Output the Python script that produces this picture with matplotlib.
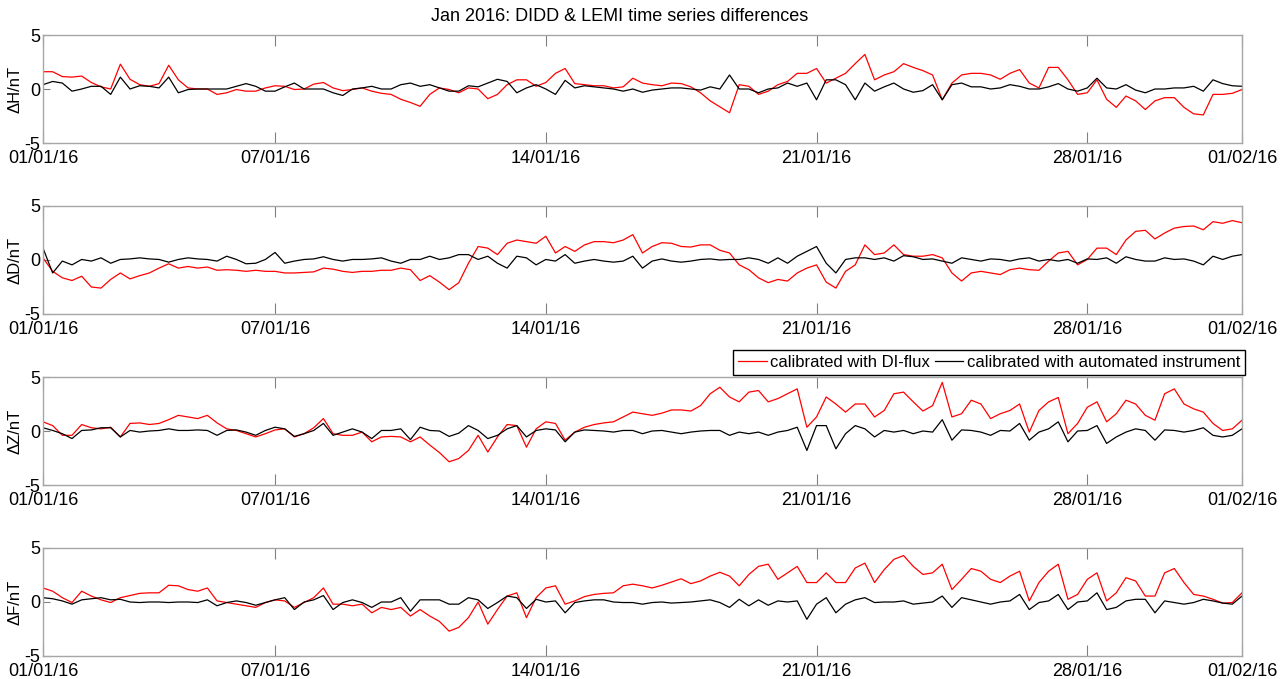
import numpy as np
import matplotlib
matplotlib.use("Agg")
import matplotlib.pyplot as plt

plt.rcParams['font.family'] = ['Liberation Sans', 'DejaVu Sans']

# ---- data: time in days since 01/01/16 00:00, 6-hour steps ----
days = np.arange(0, 31.01, 0.25)

tick_days = [0, 6, 13, 20, 27, 31]
tick_labels = ["01/01/16", "07/01/16", "14/01/16", "21/01/16", "28/01/16", "01/02/16"]

title = "Jan 2016: DIDD & LEMI time series differences"
ylabels = ["\u0394H/nT", "\u0394D/nT", "\u0394Z/nT", "\u0394F/nT"]
legend_labels = ["calibrated with DI-flux", "calibrated with automated instrument"]

dH_diflux = [1.6, 1.6, 1.15, 1.1, 1.2, 0.6, 0.2, 0.0, 2.3, 0.9, 0.4, 0.25, 0.5, 2.2, 0.85, 0.1,
             0.0, 0.0, -0.5, -0.35, -0.05, -0.2, -0.2, 0.1, 0.3, 0.25, -0.05, 0.0, 0.45, 0.6, 0.1, -0.15,
             -0.05, 0.1, -0.2, -0.4, -0.5, -0.95, -1.25, -1.6, -0.5, 0.1, -0.05, -0.35, 0.1, 0.0, -0.9, -0.5,
             0.4, 0.85, 0.85, 0.25, 0.6, 1.45, 1.9, 0.5, 0.4, 0.3, 0.3, 0.1, 0.2, 1.0, 0.55, 0.4,
             0.3, 0.55, 0.5, 0.2, -0.35, -1.1, -1.65, -2.2, 0.4, 0.25, -0.5, -0.2, 0.4, 0.7, 1.45, 1.45,
             1.9, 0.55, 1.0, 1.45, 2.35, 3.2, 0.85, 1.3, 1.6, 2.35, 2.0, 1.7, 1.3, -1.0, 0.55, 1.3,
             1.45, 1.45, 1.3, 0.9, 1.45, 1.8, 0.55, 0.1, 2.0, 2.0, 0.85, -0.5, -0.35, 0.85, -0.95, -1.7,
             -0.65, -1.1, -1.9, -1.1, -0.8, -0.8, -1.7, -2.3, -2.4, -0.5, -0.5, -0.4, -0.05]
dH_auto = [0.4, 0.7, 0.55, -0.2, 0.0, 0.25, 0.25, -0.5, 1.1, 0.0, 0.3, 0.25, 0.1, 1.1, -0.35, -0.05,
           0.0, 0.0, 0.0, 0.0, 0.25, 0.5, 0.25, -0.2, -0.2, 0.2, 0.55, 0.0, 0.0, 0.0, -0.35, -0.6,
           0.0, 0.1, 0.25, 0.0, 0.0, 0.4, 0.55, 0.25, 0.4, 0.1, -0.2, -0.2, 0.3, 0.2, 0.55, 0.9,
           0.7, -0.35, 0.1, 0.4, 0.0, -0.5, 0.8, 0.1, 0.3, 0.2, 0.1, 0.0, -0.2, 0.0, -0.3, -0.1,
           0.0, 0.1, 0.1, 0.0, -0.1, 0.2, 0.0, 1.3, 0.0, 0.0, -0.35, 0.0, 0.1, 0.55, 0.25, 0.55,
           -1.0, 0.85, 0.85, 0.4, -1.0, 0.55, -0.2, 0.2, 0.55, 0.0, -0.3, -0.15, 0.4, -1.0, 0.4, 0.55,
           0.2, 0.2, 0.0, 0.1, 0.4, 0.25, 0.0, 0.0, 0.2, 0.5, 0.0, -0.2, 0.1, 1.0, 0.1, 0.0,
           0.4, -0.1, -0.35, 0.0, 0.0, 0.1, 0.1, 0.25, -0.2, 0.85, 0.5, 0.3, 0.25]

dD_diflux = [0.2, -1.05, -1.65, -1.9, -1.5, -2.5, -2.6, -1.8, -1.2, -1.75, -1.45, -1.2, -0.75, -0.35, -0.75, -0.6,
             -0.75, -0.65, -0.95, -0.9, -0.95, -1.05, -0.95, -1.05, -1.05, -1.2, -1.2, -1.15, -1.1, -0.75, -0.85, -1.05,
             -1.15, -1.05, -1.05, -0.95, -0.95, -0.75, -0.9, -1.9, -1.45, -2.05, -2.75, -2.1, -0.3, 1.25, 1.1, 0.5,
             1.55, 1.85, 1.7, 1.55, 2.2, 0.65, 1.25, 0.8, 1.4, 1.7, 1.7, 1.6, 1.85, 2.35, 0.65, 1.25,
             1.6, 1.55, 1.25, 1.2, 1.4, 1.4, 0.9, 0.65, -0.45, -0.9, -1.65, -2.1, -1.8, -1.95, -1.2, -0.75,
             -0.45, -2.05, -2.6, -1.05, -0.45, 1.4, 0.5, 0.65, 1.4, 0.5, 0.35, 0.35, 0.5, 0.2, -1.2, -1.95,
             -1.2, -1.05, -1.2, -1.35, -0.9, -0.75, -0.9, -0.95, -0.1, 0.65, 0.8, -0.45, 0.05, 1.1, 1.1, 0.5,
             1.85, 2.65, 2.75, 1.95, 2.5, 2.95, 3.1, 3.15, 2.8, 3.55, 3.4, 3.65, 3.45]
dD_auto = [1.1, -1.2, -0.1, -0.45, 0.05, -0.1, 0.2, -0.3, 0.05, 0.1, 0.2, 0.1, 0.05, -0.2, 0.05, 0.2,
           0.1, 0.05, -0.1, 0.35, 0.05, -0.35, -0.3, 0.05, 0.7, -0.3, -0.1, 0.05, 0.1, 0.3, 0.05, -0.1,
           0.05, 0.05, 0.1, 0.2, -0.1, -0.3, 0.05, 0.05, 0.35, 0.05, 0.2, 0.5, 0.5, 0.05, 0.35, -0.3,
           -0.75, 0.35, 0.2, -0.45, 0.05, -0.1, 0.5, -0.3, -0.1, 0.05, -0.1, -0.2, -0.1, 0.35, -0.75, -0.1,
           0.1, -0.1, -0.2, -0.1, 0.05, 0.1, 0.0, 0.05, 0.05, 0.2, 0.05, -0.3, 0.2, -0.3, 0.35, 0.8,
           1.25, -0.3, -1.2, 0.05, 0.2, 0.2, 0.05, 0.2, -0.1, 0.4, 0.3, 0.05, 0.1, -0.1, -0.3, 0.2,
           0.05, -0.1, 0.1, 0.05, -0.1, 0.1, 0.2, -0.1, 0.05, -0.1, 0.05, -0.3, 0.1, 0.05, 0.2, -0.3,
           0.3, 0.05, -0.1, -0.1, 0.2, 0.05, 0.1, -0.1, -0.45, 0.35, 0.05, 0.35, 0.5]

dZ_diflux = [0.85, 0.5, -0.4, -0.4, 0.6, 0.3, 0.2, 0.35, -0.55, 0.7, 0.75, 0.6, 0.7, 1.05, 1.45, 1.3,
             1.15, 1.45, 0.75, 0.2, 0.05, -0.25, -0.55, -0.25, 0.1, 0.2, -0.55, -0.25, 0.3, 1.15, -0.25, -0.4,
             -0.4, -0.1, -1.0, -0.55, -0.5, -0.55, -1.0, -0.55, -1.3, -2.0, -2.85, -2.55, -1.8, -0.4, -1.95, -0.55,
             0.6, 0.5, -1.5, 0.2, 0.85, 0.7, -0.85, -0.1, 0.35, 0.6, 0.75, 0.85, 1.3, 1.75, 1.6, 1.45,
             1.65, 1.95, 1.95, 1.85, 2.35, 3.45, 4.05, 3.15, 2.7, 3.6, 3.75, 2.7, 3.0, 3.45, 3.9, 0.35,
             1.3, 3.15, 2.5, 1.75, 2.5, 2.5, 1.3, 1.9, 3.45, 3.6, 2.7, 1.85, 2.35, 4.5, 1.3, 1.6,
             2.85, 2.5, 1.15, 1.6, 1.9, 2.5, -0.1, 1.9, 2.7, 3.1, -0.25, 0.7, 2.2, 2.7, 0.85, 1.6,
             2.85, 2.5, 1.45, 1.0, 3.45, 3.9, 2.5, 2.05, 1.75, 0.7, 0.05, 0.2, 1.0]
dZ_auto = [0.3, 0.05, -0.25, -0.7, 0.05, 0.1, 0.3, 0.3, -0.55, 0.05, -0.1, 0.0, 0.05, 0.2, 0.05, 0.05,
           0.1, 0.05, -0.4, 0.05, 0.1, -0.1, -0.4, 0.05, 0.35, 0.2, -0.5, -0.25, 0.05, 0.7, -0.4, -0.1,
           0.2, -0.1, -0.7, 0.05, 0.05, 0.2, -0.8, 0.35, 0.05, 0.0, -0.5, -0.2, 0.5, 0.05, -0.7, -0.4,
           0.2, 0.5, -0.55, 0.05, 0.2, 0.1, -1.0, -0.1, 0.1, 0.05, 0.0, -0.1, 0.05, 0.05, -0.25, 0.0,
           0.05, -0.1, -0.25, -0.1, 0.0, 0.05, 0.05, -0.4, -0.1, -0.25, -0.1, -0.4, -0.1, 0.05, 0.35, -1.8,
           0.5, 0.5, -1.65, -0.25, 0.5, 0.2, -0.55, 0.05, -0.1, 0.05, -0.25, 0.0, -0.1, 1.05, -0.85, 0.1,
           0.05, -0.1, -0.4, 0.05, 0.0, 0.7, -0.85, -0.1, 0.2, 0.85, -1.0, 0.0, 0.05, 0.5, -1.15, -0.55,
           -0.1, 0.2, 0.05, -0.85, 0.1, 0.05, -0.1, 0.05, 0.3, -0.4, -0.55, -0.4, 0.2]

dF_diflux = [1.3, 1.0, 0.4, -0.05, 1.0, 0.55, 0.2, -0.05, 0.4, 0.6, 0.8, 0.85, 0.85, 1.55, 1.5, 1.15,
             1.0, 1.3, 0.1, -0.05, -0.2, -0.35, -0.5, -0.05, 0.2, 0.1, -0.5, -0.05, 0.4, 1.3, -0.2, -0.2,
             -0.35, -0.2, -1.0, -0.5, -0.7, -0.5, -1.3, -0.7, -1.3, -1.8, -2.7, -2.35, -1.45, 0.0, -2.05, -0.7,
             0.55, 0.85, -1.45, 0.4, 1.3, 1.5, -0.2, 0.1, 0.5, 0.7, 0.8, 0.85, 1.5, 1.65, 1.5, 1.3,
             1.55, 1.85, 2.15, 1.7, 1.95, 2.4, 2.75, 2.4, 1.5, 2.55, 3.3, 3.5, 2.1, 2.7, 3.3, 1.8,
             1.8, 2.7, 1.8, 1.8, 3.15, 3.6, 1.8, 3.0, 3.95, 4.3, 3.3, 2.55, 2.7, 3.5, 1.15, 2.1,
             3.1, 2.85, 2.1, 1.8, 2.4, 2.85, 0.1, 1.8, 2.85, 3.5, 0.25, 0.7, 2.1, 2.7, 0.1, 0.85,
             2.25, 1.95, 0.55, 0.55, 2.7, 3.1, 1.8, 0.7, 0.55, 0.25, -0.1, -0.05, 0.85]
dF_auto = [0.4, 0.3, 0.1, -0.2, 0.2, 0.3, 0.4, 0.2, 0.25, 0.0, -0.05, 0.0, 0.0, -0.05, 0.0, 0.0,
           -0.05, 0.2, -0.35, -0.05, 0.1, -0.05, -0.3, -0.05, 0.2, 0.4, -0.7, 0.0, 0.2, 0.6, -0.7, -0.05,
           0.2, -0.05, -0.5, 0.0, 0.0, 0.4, -0.85, 0.2, 0.2, 0.2, -0.2, -0.2, 0.4, 0.2, -0.6, -0.05,
           0.55, 0.4, -0.6, 0.25, 0.0, 0.1, -1.0, -0.05, 0.1, 0.2, 0.2, 0.0, -0.05, -0.05, -0.2, -0.05,
           0.0, -0.1, -0.05, 0.0, 0.1, 0.2, -0.05, -0.5, 0.25, -0.35, 0.2, -0.3, 0.1, 0.0, 0.1, -1.6,
           -0.2, 0.4, -1.0, -0.2, 0.2, 0.4, -0.05, 0.0, 0.0, 0.1, -0.2, -0.1, 0.0, 0.55, -0.5, 0.4,
           0.2, 0.0, -0.2, 0.0, 0.1, 0.7, -0.7, -0.05, 0.1, 0.7, -0.7, 0.0, 0.1, 0.85, -0.7, -0.5,
           0.1, 0.25, 0.25, -1.0, 0.1, -0.05, -0.2, -0.05, 0.25, 0.1, -0.1, -0.2, 0.55]

series = [(dH_diflux, dH_auto), (dD_diflux, dD_auto), (dZ_diflux, dZ_auto), (dF_diflux, dF_auto)]

# ---- layout ----
W, H = 1288, 679
fig = plt.figure(figsize=(W / 100, H / 100), dpi=100)
left = 43 / W
width = (1242 - 43) / W
tops = [35, 206, 377, 548]
ax_h = 108
frame_col = "#a6a6a6"
fs = 13

axes = []
for i, (red, black) in enumerate(series):
    ax = fig.add_axes([left, 1 - (tops[i] + ax_h) / H, width, ax_h / H])
    l1, = ax.plot(days, red, color="#ff0000", lw=0.9)
    l2, = ax.plot(days, black, color="#000000", lw=0.9)
    ax.set_xlim(0, 31)
    ax.set_ylim(-5, 5)
    ax.set_yticks([-5, 0, 5])
    ax.set_yticklabels(["-5", "0", "5"])
    ax.set_xticks(tick_days)
    ax.set_xticklabels(tick_labels)
    ax.tick_params(axis="both", direction="in", labelsize=fs, colors="#000000")
    ax.tick_params(axis="x", length=8, color="#808080", top=True, bottom=True, pad=5)
    ax.tick_params(axis="y", length=5, color="#808080", left=True, right=False, pad=2)
    for sp in ax.spines.values():
        sp.set_color(frame_col)
        sp.set_linewidth(1.0)
    ax.set_ylabel(ylabels[i], fontsize=12)
    ax.yaxis.set_label_coords(-20 / 1199, 0.5)
    axes.append(ax)
    if i == 2:
        handles = [l1, l2]

axes[0].set_title(title, fontsize=fs, pad=10, x=(620 - 43) / 1199)

fig.legend(handles, legend_labels, ncol=2, loc="lower right",
           bbox_to_anchor=(1245 / W, 1 - 375 / H), fontsize=12,
           frameon=True, fancybox=False, edgecolor="#000000", framealpha=1,
           handlelength=1.7, handletextpad=0.2, columnspacing=0.3,
           borderpad=0.3, borderaxespad=0.0)

fig.savefig("out.png", dpi=100)
